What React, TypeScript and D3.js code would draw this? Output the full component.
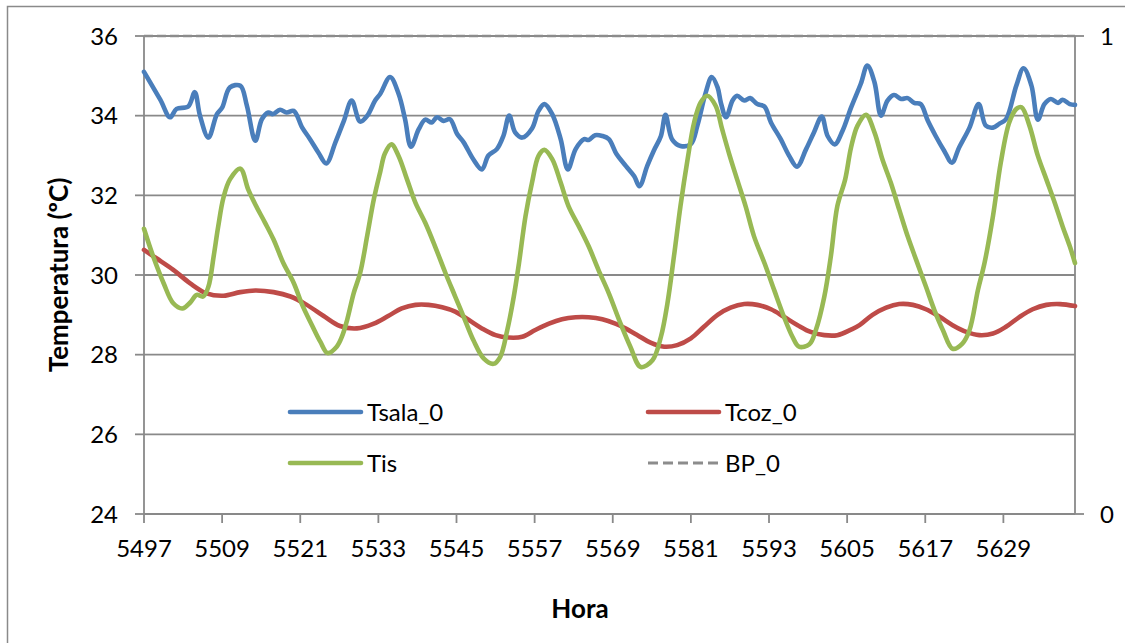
import React from "react";
import * as d3 from "d3";

// Categories (hours) and tick labels
const startHour = 5497;
const hours = d3.range(5497, 5641); // 144 hourly categories
const tickHours = hours.filter((h) => (h - startHour) % 12 === 0 && h <= 5629);
const leftTicks = [24, 26, 28, 30, 32, 34, 36];
const rightTicks = [0, 1];

// Series values as [hour offset from 5497, value]
const tsala: [number, number][] = [
  [0, 35.1], [2.5, 34.4], [4.0, 33.96], [5.0, 34.17], [6.8, 34.23], [7.8, 34.59], [8.6, 34.0],
  [9.9, 33.45], [11.2, 34.04], [12, 34.2], [13.2, 34.71], [14.8, 34.75], [15.8, 34.25],
  [17.1, 33.37], [18.1, 33.91], [19.1, 34.08], [19.8, 34.04], [20.9, 34.15], [21.9, 34.08],
  [23.0, 34.12], [24.3, 33.7], [25.5, 33.41], [26.8, 33.07], [28.0, 32.8], [29.4, 33.33],
  [30.7, 33.87], [31.9, 34.38], [33.2, 33.85], [34.3, 34.0], [35.5, 34.38], [36.3, 34.55],
  [37.8, 34.97], [39.1, 34.55], [40.1, 33.91], [41.0, 33.22], [42.2, 33.66], [43.2, 33.9],
  [44.2, 33.83], [45.0, 33.96], [46.0, 33.87], [47.0, 33.91], [48.1, 33.54], [49.1, 33.33],
  [50.6, 32.9], [51.9, 32.65], [52.9, 33.0], [54.2, 33.16], [55.2, 33.49], [56.1, 34.0],
  [57.0, 33.58], [58.1, 33.45], [59.6, 33.68], [60.6, 34.12], [61.5, 34.29], [62.7, 34.04],
  [64.0, 33.41], [65.1, 32.65], [66.3, 33.16], [67.6, 33.41], [68.3, 33.39], [69.3, 33.51],
  [70.4, 33.49], [71.4, 33.41], [72.6, 33.03], [74.0, 32.74], [75.3, 32.48], [76.1, 32.23],
  [77.3, 32.74], [78.3, 33.12], [79.4, 33.49], [80.1, 34.02], [81.1, 33.41], [82.4, 33.24],
  [84.0, 33.29], [85.0, 33.75], [86.3, 34.59], [87.2, 34.97], [88.1, 34.71], [88.6, 34.33],
  [89.4, 33.96], [90.4, 34.38], [91.1, 34.5], [92.2, 34.38], [93.1, 34.44], [94.2, 34.29],
  [95.3, 34.23], [96.3, 33.83], [97.8, 33.41], [99.1, 32.99], [100.3, 32.72], [101.7, 33.16],
  [102.9, 33.58], [104.1, 33.98], [105.0, 33.49], [106.1, 33.28], [107.3, 33.62], [108.6, 34.2],
  [110.1, 34.8], [111.1, 35.26], [112.2, 34.84], [113.2, 34.0], [114.2, 34.38], [115.2, 34.52],
  [116.3, 34.42], [117.3, 34.44], [118.3, 34.32], [119.3, 34.29], [120.4, 33.87], [121.6, 33.49],
  [122.9, 33.12], [124.1, 32.82], [125.2, 33.2], [126.8, 33.7], [128.2, 34.29], [129.3, 33.75],
  [130.4, 33.7], [131.4, 33.8], [132.4, 33.91], [134.0, 34.76], [135.1, 35.19], [136.3, 34.76],
  [137.3, 33.9], [138.3, 34.29], [139.3, 34.42], [140.4, 34.32], [141.1, 34.4], [142.2, 34.29],
  [143, 34.27],
];

const tcoz: [number, number][] = [
  [0, 30.63], [1.9, 30.42], [4.5, 30.13], [7.1, 29.79], [9.6, 29.54], [12.2, 29.48], [14.8, 29.57],
  [17.1, 29.61], [19.9, 29.57], [22.5, 29.46], [25.0, 29.25], [27.6, 28.97], [30.1, 28.72],
  [32.7, 28.66], [35.3, 28.78], [37.5, 28.97], [39.6, 29.16], [41.7, 29.25], [43.7, 29.25],
  [45.8, 29.19], [47.8, 29.08], [49.9, 28.87], [51.9, 28.66], [54.0, 28.49], [56.0, 28.43],
  [58.1, 28.45], [60.1, 28.62], [62.2, 28.78], [64.2, 28.89], [66.3, 28.94], [68.3, 28.94],
  [70.4, 28.89], [72.4, 28.78], [73.7, 28.68], [75.8, 28.49], [77.8, 28.3], [79.9, 28.2],
  [81.9, 28.24], [84.0, 28.41], [86.0, 28.7], [88.1, 29.0], [90.1, 29.18], [92.2, 29.27],
  [94.2, 29.25], [96.3, 29.14], [98.3, 28.95], [100.4, 28.74], [102.4, 28.57], [104.5, 28.49],
  [106.5, 28.49], [108.6, 28.63], [109.9, 28.74], [111.9, 29.0], [114.0, 29.18], [116.0, 29.27],
  [118.1, 29.25], [120.1, 29.14], [122.2, 28.95], [124.2, 28.74], [126.3, 28.57], [128.3, 28.49],
  [130.4, 28.53], [132.4, 28.7], [134.5, 28.95], [136.5, 29.14], [138.6, 29.25], [140.7, 29.27],
  [143, 29.22],
];

const tis: [number, number][] = [
  [0, 31.16], [1.4, 30.47], [3.0, 29.8], [4.5, 29.29], [5.9, 29.16], [7.1, 29.31], [8.1, 29.5],
  [9.1, 29.46], [9.9, 29.71], [10.7, 30.47], [11.4, 31.22], [12.2, 31.94], [13.2, 32.4],
  [14.8, 32.67], [16.0, 32.15], [17.1, 31.77], [18.6, 31.31], [19.9, 30.89], [21.4, 30.3],
  [23.0, 29.8], [24.3, 29.25], [25.8, 28.74], [27.1, 28.32], [28.2, 28.04], [29.6, 28.2],
  [30.4, 28.45], [31.2, 28.87], [32.2, 29.54], [33.2, 30.05], [34.3, 31.0], [35.3, 31.9],
  [36.3, 32.6], [37.0, 33.05], [38.0, 33.28], [39.1, 32.99], [40.4, 32.4], [41.7, 31.81],
  [43.2, 31.31], [44.7, 30.72], [46.3, 30.05], [47.8, 29.46], [49.1, 28.95], [50.6, 28.36],
  [52.2, 27.9], [53.7, 27.77], [54.7, 27.94], [55.8, 28.62], [56.8, 29.46], [57.6, 30.3],
  [58.6, 31.48], [59.6, 32.32], [60.6, 32.99], [61.5, 33.14], [62.7, 32.91], [64.0, 32.32],
  [65.2, 31.73], [66.8, 31.22], [68.3, 30.72], [69.8, 30.13], [71.4, 29.54], [73.2, 28.78],
  [74.7, 28.2], [76.3, 27.69], [78.1, 27.86], [79.4, 28.45], [80.4, 29.29], [81.4, 30.47],
  [82.4, 31.73], [83.5, 32.91], [84.5, 33.83], [85.5, 34.33], [86.5, 34.5], [87.8, 34.25],
  [88.8, 33.66], [89.9, 33.03], [91.1, 32.4], [92.4, 31.73], [93.7, 30.97], [95.3, 30.3],
  [96.8, 29.62], [98.3, 28.95], [99.6, 28.45], [100.6, 28.2], [102.2, 28.26], [103.2, 28.62],
  [104.5, 29.46], [105.5, 30.47], [106.5, 31.73], [107.7, 32.4], [108.6, 33.2], [109.6, 33.75],
  [110.9, 34.02], [112.2, 33.58], [113.4, 32.91], [114.7, 32.32], [116.0, 31.64], [117.3, 30.97],
  [118.6, 30.38], [120.1, 29.71], [121.4, 29.12], [122.7, 28.62], [124.2, 28.15], [125.7, 28.28],
  [126.8, 28.62], [128.1, 29.63], [129.1, 30.3], [130.4, 31.48], [131.6, 32.82], [132.9, 33.83],
  [134.0, 34.17], [134.8, 34.21], [136.0, 33.75], [137.3, 32.99], [138.6, 32.4], [139.9, 31.81],
  [141.1, 31.22], [142.2, 30.72], [143, 30.3],
];

// BP_0 on the secondary axis (0..1)
const bp0: [number, number][] = [[0, 1], [143, 1]];

const seriesNames = ["Tsala_0", "Tcoz_0", "Tis", "BP_0"];

const FONT = "Lato, 'Open Sans', sans-serif";
const GRID = "#898989";
const COLORS = { tsala: "#4A7EBB", tcoz: "#BE4B48", tis: "#98B954", bp: "#8C8C8C" };

export default function App() {
  const left = 144;
  const right = 1075;
  const top = 36;
  const bottom = 514;
  const fs = 24;

  const x = d3.scaleLinear().domain([hours[0], hours[hours.length - 1]]).range([left, right]);
  const y = d3.scaleLinear().domain([24, 36]).range([bottom, top]);
  const y2 = d3.scaleLinear().domain([0, 1]).range([bottom, top]);

  const line = d3
    .line<[number, number]>()
    .x((d) => x(startHour + d[0]))
    .y((d) => y(d[1]))
    .curve(d3.curveCatmullRom.alpha(0.5));
  const line2 = d3
    .line<[number, number]>()
    .x((d) => x(startHour + d[0]))
    .y((d) => y2(d[1]));

  const lw = 4.6;

  const legendItems = [
    { name: seriesNames[0], color: COLORS.tsala, x0: 290, y0: 412, dash: false },
    { name: seriesNames[1], color: COLORS.tcoz, x0: 648, y0: 412, dash: false },
    { name: seriesNames[2], color: COLORS.tis, x0: 290, y0: 463, dash: false },
    { name: seriesNames[3], color: COLORS.bp, x0: 648, y0: 463, dash: true },
  ];

  return (
    <svg
      width={1125}
      height={643}
      style={{ position: "absolute", left: 0, top: 0, background: "#fff" }}
      fontFamily={FONT}
    >
      <rect x={0} y={0} width={1125} height={643} fill="#fff" />
      {/* chart area border */}
      <rect x={7.5} y={6.5} width={1130} height={650} fill="none" stroke="#8a8a8a" strokeWidth={1.5} />

      {/* gridlines */}
      {leftTicks.slice(1).map((t) => (
        <line key={"g" + t} x1={left} x2={right} y1={y(t)} y2={y(t)} stroke={GRID} strokeWidth={1.8} />
      ))}

      {/* axes */}
      <line x1={left} x2={left} y1={top} y2={bottom} stroke={GRID} strokeWidth={1.8} />
      <line x1={right} x2={right} y1={top} y2={bottom} stroke={GRID} strokeWidth={1.8} />
      <line x1={left} x2={right} y1={bottom} y2={bottom} stroke={GRID} strokeWidth={1.8} />

      {/* left ticks + labels */}
      {leftTicks.map((t) => (
        <g key={"l" + t}>
          <line x1={left - 9} x2={left} y1={y(t)} y2={y(t)} stroke={GRID} strokeWidth={1.8} />
          <text x={118} y={y(t) + 8.5} textAnchor="end" fontSize={fs} fill="#000">
            {t}
          </text>
        </g>
      ))}

      {/* right ticks + labels */}
      {rightTicks.map((t) => (
        <g key={"r" + t}>
          <line x1={right} x2={right + 9} y1={y2(t)} y2={y2(t)} stroke={GRID} strokeWidth={1.8} />
          <text x={1100} y={y2(t) + 8.5} textAnchor="start" fontSize={fs} fill="#000">
            {t}
          </text>
        </g>
      ))}

      {/* x ticks + labels */}
      {tickHours.map((h) => (
        <g key={"x" + h}>
          <line x1={x(h)} x2={x(h)} y1={bottom} y2={bottom + 9} stroke={GRID} strokeWidth={1.8} />
          <text x={x(h)} y={557} textAnchor="middle" fontSize={fs} fill="#000">
            {h}
          </text>
        </g>
      ))}

      {/* BP_0 dashed line */}
      <path d={line2(bp0) || ""} fill="none" stroke={COLORS.bp} strokeWidth={2.4} strokeDasharray="9 4" />

      {/* series */}
      <path d={line(tsala) || ""} fill="none" stroke={COLORS.tsala} strokeWidth={lw} strokeLinecap="round" strokeLinejoin="round" />
      <path d={line(tcoz) || ""} fill="none" stroke={COLORS.tcoz} strokeWidth={lw} strokeLinecap="round" strokeLinejoin="round" />
      <path d={line(tis) || ""} fill="none" stroke={COLORS.tis} strokeWidth={lw} strokeLinecap="round" strokeLinejoin="round" />

      {/* legend */}
      {legendItems.map((it) => (
        <g key={it.name}>
          <line
            x1={it.x0}
            x2={it.x0 + 71}
            y1={it.y0}
            y2={it.y0}
            stroke={it.color}
            strokeWidth={it.dash ? 3 : lw}
            strokeLinecap={it.dash ? "butt" : "round"}
            strokeDasharray={it.dash ? "10 5" : undefined}
          />
          <text x={it.x0 + 77} y={it.y0 + 8.5} fontSize={fs} fill="#000">
            {it.name}
          </text>
        </g>
      ))}

      {/* axis titles */}
      <text x={580} y={618} textAnchor="middle" fontSize={26} fontWeight="bold" fill="#000">
        Hora
      </text>
      <text
        transform={`translate(68, ${(top + bottom) / 2}) rotate(-90)`}
        textAnchor="middle"
        fontSize={26}
        fontWeight="bold"
        fill="#000"
      >
        Temperatura (ºC)
      </text>
    </svg>
  );
}
